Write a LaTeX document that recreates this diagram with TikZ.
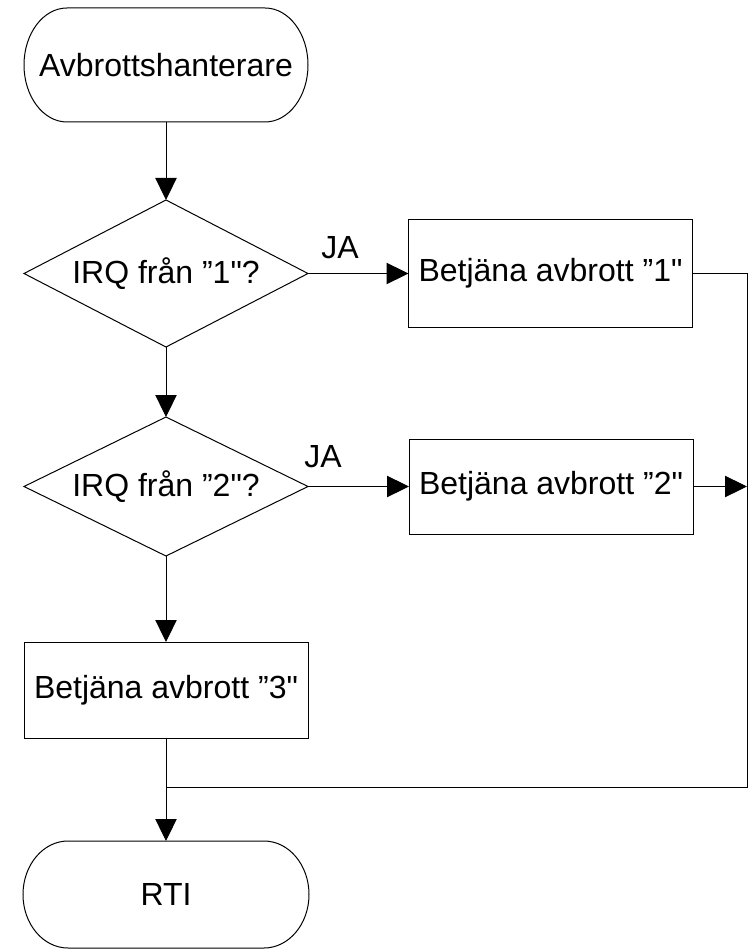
\documentclass[tikz,border=0pt]{standalone}
\usepackage{fontspec}
\setmainfont{Liberation Sans}[Ligatures=TeXOff]
\usetikzlibrary{arrows.meta,shapes.geometric,calc}
\newcommand\stadiumoutline[3]{% node, rx, ry (px)
  \draw[line] ($(#1.north west)+(#2,0)$) -- ($(#1.north east)+(-#2,0)$)
    .. controls ($(#1.north east)+(-0.448*#2,0)$) and ($(#1.north east)+(0,0.448*#3)$) .. ($(#1.north east)+(0,#3)$)
    -- ($(#1.south east)+(0,-#3)$)
    .. controls ($(#1.south east)+(0,-0.448*#3)$) and ($(#1.south east)+(-0.448*#2,0)$) .. ($(#1.south east)+(-#2,0)$)
    -- ($(#1.south west)+(#2,0)$)
    .. controls ($(#1.south west)+(0.448*#2,0)$) and ($(#1.south west)+(0,-0.448*#3)$) .. ($(#1.south west)+(0,-#3)$)
    -- ($(#1.north west)+(0,#3)$)
    .. controls ($(#1.north west)+(0,0.448*#3)$) and ($(#1.north west)+(0.448*#2,0)$) .. ($(#1.north west)+(#2,0)$) -- cycle;
}
\begin{document}
\begin{tikzpicture}[x=0.75pt,y=-0.75pt,
  line/.style={line width=0.75pt},
  arr/.style={line, -{Triangle[length=16.5pt,width=16pt]}},
  every node/.style={font=\fontsize{24}{28}\selectfont, inner sep=0pt, outer sep=0pt},
  termnode/.style={rectangle, minimum width=#1*0.75pt},
  procbox/.style={rectangle, draw, line width=0.75pt, minimum width=284*0.75pt},
  decision/.style={diamond, aspect=2, draw, line width=0.75pt, minimum width=284*0.75pt}]
\useasboundingbox (0,0) rectangle (753,952);

% terminals
\node[termnode=284, minimum height=114*0.75pt] (start) at (166,65) {Avbrottshanterare};
\stadiumoutline{start}{43}{57}
\node[termnode=286, minimum height=107*0.75pt] (rti) at (166,894.5) {RTI};
\stadiumoutline{rti}{45}{53.5}

% decisions
\node[decision, minimum height=147*0.75pt] (d1) at (166,273.5) {IRQ från ”1"?};
\node[decision, minimum height=139*0.75pt] (d2) at (166,486.5) {IRQ från ”2"?};

% process boxes
\node[procbox, minimum height=107*0.75pt] (b1) at (550.5,273.5) {Betjäna avbrott ”1"};
\node[procbox, minimum height=95*0.75pt] (b2) at (551,486.5) {Betjäna avbrott ”2"};
\node[procbox, minimum height=96*0.75pt] (b3) at (166,690) {Betjäna avbrott ”3"};

% labels
\node (ja1) at (340,248) {JA};
\node (ja2) at (323,457) {JA};

% connectors
\coordinate (rr) at (747,787);
\coordinate (jn) at (166,787);
\draw[arr] (start.south) -- (d1.north);
\draw[arr] (d1.east) -- (b1.west);
\draw[arr] (d1.south) -- (d2.north);
\draw[arr] (d2.east) -- (b2.west);
\draw[arr] (d2.south) -- (b3.north);
\draw[arr] (b3.south) -- (rti.north);
\draw[line] (b1.east) -| (rr) -- (jn);
\draw[arr] (b2.east) -- (b2.east -| rr);
\end{tikzpicture}
\end{document}
